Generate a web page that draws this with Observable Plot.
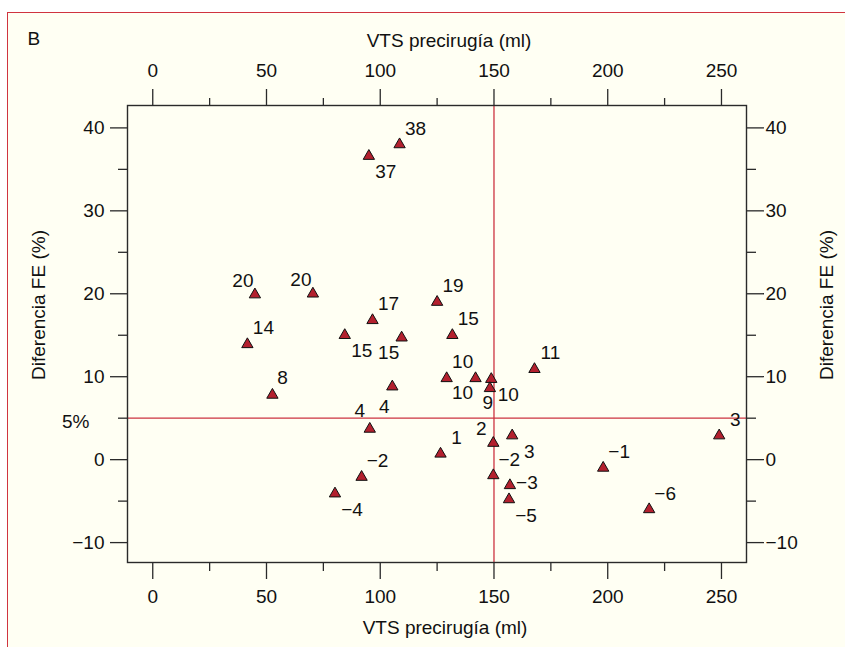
<!DOCTYPE html>
<html><head><meta charset="utf-8">
<script src="https://cdn.jsdelivr.net/npm/d3@7"></script>
<script src="https://cdn.jsdelivr.net/npm/@observablehq/plot@0.6"></script>
<style>
html,body{margin:0;padding:0;background:#ffffff;overflow:hidden;width:845px;height:647px;}
#panel{position:absolute;left:7px;top:12px;width:900px;height:700px;background:#fffff3;border-left:1.5px solid #d0343f;border-top:1.5px solid #d0343f;}
#chart{position:absolute;left:0;top:0;}
</style></head><body>
<div id="panel"></div><div id="chart"></div>
<script>
// ---- data ----
const vts = [108.5, 95, 44.9, 70.4, 41.6, 96.6, 84.4, 109.4, 125, 131.7,
             52.6, 105.3, 95.4, 129.2, 141.9, 148.8, 148.2, 167.8, 249, 126.5,
             149.7, 158, 149.7, 157, 156.6, 198, 218.2, 91.8, 80.1];
const difFE = [38, 36.6, 19.9, 20, 13.9, 16.8, 15, 14.7, 19, 15,
               7.8, 8.8, 3.7, 9.8, 9.8, 9.7, 8.6, 10.9, 2.9, 0.7,
               2.0, 2.9, -1.9, -3.1, -4.8, -1.0, -6.0, -2.1, -4.1];
const pointLabels = ["38", "37", "20", "20", "14", "17", "15", "15", "19", "15",
                     "8", "4", "4", "10", "10", "10", "9", "11", "3", "1",
                     "2", "3", "−2", "−3", "−5", "−1", "−6", "−2", "−4"];
const labelPlacement = ["ne", "se", "nw", "nw", "ne", "ne", "se", "sw", "ne", "ne",
                        "nne", "s", "n", "ne", "sw", "se", "s2", "ne", "ne", "ne",
                        "nw", "se", "ne", "e", "se", "ne", "ne", "ne", "se"];
const xTicks = [0, 50, 100, 150, 200, 250];
const xMinorTicks = [25, 75, 125, 175, 225];
const yTicks = [-10, 0, 10, 20, 30, 40];
const yMinorTicks = [-5, 5, 15, 25, 35];
const xTitle = "VTS precirugía (ml)";
const yTitle = "Diferencia FE (%)";
const panelLetter = "B";
const thresholdY = 5;
const thresholdLabel = "5%";
const thresholdX = 150;

// ---- build ----
const points = vts.map((v, i) => ({vts: v, dif: difFE[i], label: pointLabels[i], pos: labelPlacement[i]}));
const offsets = {
  ne: [16, -16], nne: [10, -17], se: [17, 16], nw: [-12, -14], sw: [-13, 15],
  n: [-10, -18], s: [-8, 20], s2: [-2, 15], e: [17, -2]
};
const fmt = d => d < 0 ? "−" + Math.abs(d) : String(d);
const red = "#cc3340";
const axisColor = "#2a2a2a";
const font = "'Liberation Sans', Arial, sans-serif";

const labelMarks = Object.entries(offsets).map(([key, [dx, dy]]) =>
  Plot.text(points.filter(p => p.pos === key), {x: "vts", y: "dif", text: "label", fill: "#111", dx, dy})
);

const chart = Plot.plot({
  width: 845,
  height: 647,
  marginLeft: 127,
  marginRight: 99,
  marginTop: 105,
  marginBottom: 85,
  style: {fontFamily: font, fontSize: "19px", background: "transparent", color: "#111"},
  x: {domain: [-11.1, 261], axis: null},
  y: {domain: [-12.4, 42.7], axis: null},
  marks: [
    Plot.ruleY([thresholdY], {stroke: red, strokeWidth: 1.3}),
    Plot.ruleX([thresholdX], {stroke: red, strokeWidth: 1.3}),
    Plot.frame({stroke: axisColor, strokeWidth: 1.4}),
    // top axis
    Plot.axisX(xTicks, {anchor: "top", tickSize: 17, tickPadding: 12, tickFormat: fmt, label: null, stroke: axisColor, strokeWidth: 1.3}),
    Plot.axisX(xMinorTicks, {anchor: "top", tickSize: 8, tickFormat: () => "", label: null, stroke: axisColor, strokeWidth: 1.3}),
    // bottom axis
    Plot.axisX(xTicks, {anchor: "bottom", tickSize: 17, tickPadding: 10, tickFormat: fmt, label: null, stroke: axisColor, strokeWidth: 1.3}),
    Plot.axisX(xMinorTicks, {anchor: "bottom", tickSize: 9, tickFormat: () => "", label: null, stroke: axisColor, strokeWidth: 1.3}),
    // left axis
    Plot.axisY(yTicks, {anchor: "left", tickSize: 17, tickPadding: 6, tickFormat: fmt, label: null, stroke: axisColor, strokeWidth: 1.3}),
    Plot.axisY(yMinorTicks, {anchor: "left", tickSize: 9, tickFormat: () => "", label: null, stroke: axisColor, strokeWidth: 1.3}),
    // right axis
    Plot.axisY(yTicks, {anchor: "right", tickSize: 17, tickPadding: 2, tickFormat: fmt, label: null, stroke: axisColor, strokeWidth: 1.3}),
    Plot.axisY(yMinorTicks, {anchor: "right", tickSize: 9, tickFormat: () => "", label: null, stroke: axisColor, strokeWidth: 1.3}),
    // titles
    Plot.text([xTitle], {frameAnchor: "top", text: d => d, dx: 12, dy: -65, lineAnchor: "middle", fill: "#111"}),
    Plot.text([xTitle], {frameAnchor: "bottom", text: d => d, dx: 8, dy: 65, lineAnchor: "middle", fill: "#111"}),
    Plot.text([yTitle], {frameAnchor: "left", text: d => d, rotate: -90, textAnchor: "middle", lineAnchor: "middle", dx: -89, dy: -29, fill: "#111"}),
    Plot.text([yTitle], {frameAnchor: "right", text: d => d, rotate: -90, textAnchor: "middle", lineAnchor: "middle", dx: 80, dy: -29, fill: "#111"}),
    Plot.text([panelLetter], {frameAnchor: "top-left", text: d => d, textAnchor: "start", lineAnchor: "middle", dx: -100, dy: -67, fill: "#111"}),
    Plot.text([thresholdY], {y: d => d, frameAnchor: "left", text: () => thresholdLabel, textAnchor: "end", lineAnchor: "middle", dx: -38, dy: 4, fill: "#111"}),
    // points
    Plot.dot(points, {x: "vts", y: "dif", symbol: "triangle", r: 4.2, fill: "#b3202e", stroke: "#111", strokeWidth: 1}),
    ...labelMarks
  ]
});
document.getElementById("chart").appendChild(chart);
</script>
</body></html>
